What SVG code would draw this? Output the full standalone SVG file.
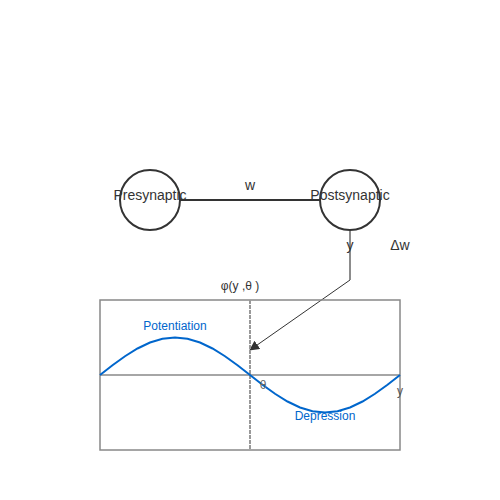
<svg xmlns="http://www.w3.org/2000/svg" width="500" height="500" viewBox="0 0 500 500">
<defs>
<style>
.node{fill:none;stroke:#333;stroke-width:2}
.lbl{font-family:"Liberation Sans",Arial,sans-serif;font-size:14px;fill:#333;text-anchor:middle}
.sm{font-family:"Liberation Sans",Arial,sans-serif;font-size:12px;fill:#333;text-anchor:middle}
.blue{font-family:"Liberation Sans",Arial,sans-serif;font-size:12px;fill:#0066cc;text-anchor:middle}
.frame{fill:none;stroke:#888;stroke-width:1.5}
</style>
<marker id="ah" viewBox="0 0 10 10" refX="9" refY="5" markerWidth="10" markerHeight="10" markerUnits="userSpaceOnUse" orient="auto">
<path d="M0,0 L10,5 L0,10 z" fill="#333"/>
</marker>
</defs>
<rect width="500" height="500" fill="#fff"/>
<g id="connectors">
<line x1="180" y1="200" x2="320" y2="200" stroke="#333" stroke-width="2"/>
<polyline points="350,230 350,280 250,350" fill="none" stroke="#333" stroke-width="1" marker-end="url(#ah)"/>
<line x1="350" y1="230" x2="350" y2="280" stroke="#888" stroke-width="1.5"/>
<text class="lbl" x="250" y="190">w</text>
<text class="lbl" x="350" y="250">y</text>
<text class="lbl" x="400" y="250">Δw</text>
</g>
<g id="presynaptic">
<circle class="node" cx="150" cy="200" r="30"/>
<text class="lbl" x="150" y="200">Presynaptic</text>
</g>
<g id="postsynaptic">
<circle class="node" cx="350" cy="200" r="30"/>
<text class="lbl" x="350" y="200">Postsynaptic</text>
</g>
<g id="plot">
<rect class="frame" x="100" y="300" width="300" height="150"/>
<line x1="100" y1="375" x2="400" y2="375" stroke="#888" stroke-width="1.5"/>
<line x1="250" y1="300" x2="250" y2="450" stroke="#999" stroke-width="2" stroke-dasharray="4,1"/>
<polyline fill="none" stroke="#0066cc" stroke-width="2" points="100,375 112.5,365.29 125,356.25 137.5,348.48 150,342.52 162.5,338.78 175,337.5 187.5,338.78 200,342.52 212.5,348.48 225,356.25 237.5,365.29 250,375 262.5,384.71 275,393.75 287.5,401.52 300,407.48 312.5,411.22 325,412.5 337.5,411.22 350,407.48 362.5,401.52 375,393.75 387.5,384.71 400,375"/>
<text class="sm" x="240" y="290">φ(y ,θ )</text>
<text class="blue" x="175" y="330">Potentiation</text>
<text class="blue" x="325" y="420">Depression</text>
<text class="sm" x="263" y="389" style="fill:#666">θ</text>
<text class="sm" x="400" y="395" style="fill:#555">y</text>
</g>
</svg>
